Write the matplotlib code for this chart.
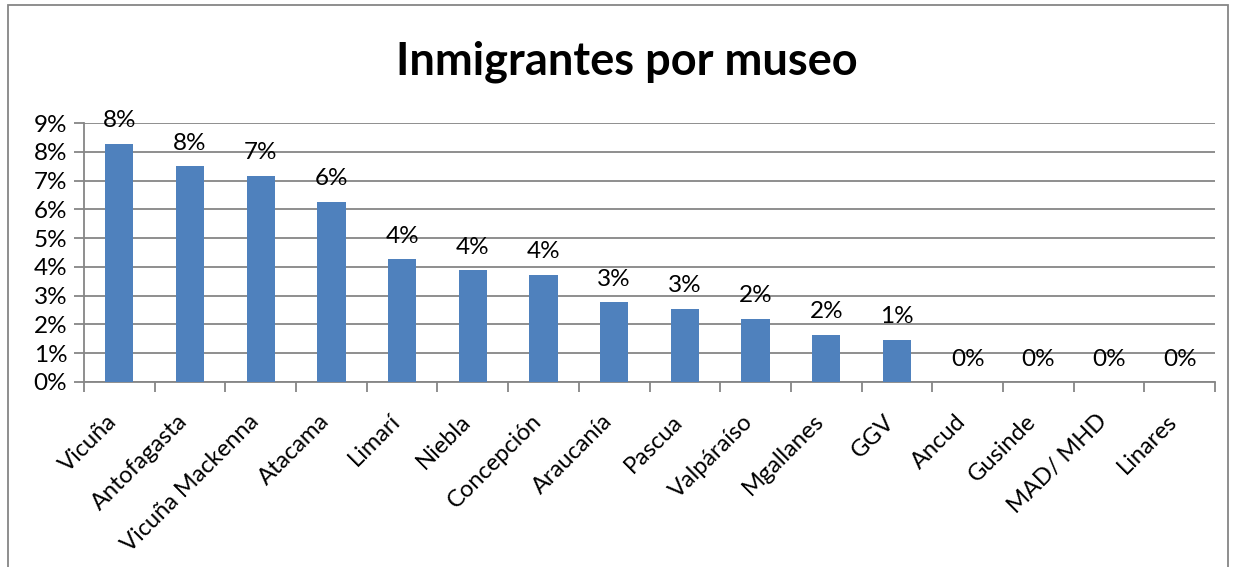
import matplotlib
matplotlib.use("Agg")
import matplotlib.pyplot as plt
from matplotlib.ticker import PercentFormatter
from matplotlib.patches import Rectangle
from matplotlib.transforms import ScaledTranslation

categories = ["Vicuña", "Antofagasta", "Vicuña Mackenna", "Atacama", "Limarí", "Niebla",
              "Concepción", "Araucanía", "Pascua", "Valpáraíso", "Mgallanes", "GGV",
              "Ancud", "Gusinde", "MAD/ MHD", "Linares"]
values = [8.28, 7.50, 7.16, 6.26, 4.26, 3.89, 3.73, 2.77, 2.55, 2.19, 1.64, 1.46,
          0.0, 0.0, 0.0, 0.0]
yticks = [0, 1, 2, 3, 4, 5, 6, 7, 8, 9]

plt.rcParams['font.family'] = ['Lato', 'DejaVu Sans']

fig = plt.figure(figsize=(12.33, 5.67), dpi=100)
ax = fig.add_axes([84/1233, 1-382/567, (1215-84)/1233, (382-123)/567])

fs = 17.5
grid_col = "#868686"
x = list(range(len(categories)))
ax.bar(x, values, width=0.4, color="#4F81BD", zorder=3)
for xi, v in zip(x, values):
    ax.annotate(f"{round(v):.0f}%", (xi, v), xytext=(0, 9), textcoords="offset points",
                ha="center", va="bottom", fontsize=fs, color="black", zorder=4)

ax.set_xlim(-0.5, len(categories) - 0.5)
ax.set_ylim(0, 9)
ax.set_yticks(yticks)
ax.yaxis.set_major_formatter(PercentFormatter(decimals=0))
ax.yaxis.grid(True, color=grid_col, linewidth=1.3, zorder=0)
ax.set_axisbelow(True)

ax.set_xticks(x)
ax.set_xticklabels(categories, rotation=45, ha="right", rotation_mode="anchor", fontsize=17)
ax.set_xticks([i - 0.5 for i in range(len(categories) + 1)], minor=True)
ax.tick_params(axis="x", which="major", length=0, pad=12)
ax.tick_params(axis="x", which="minor", length=7, color=grid_col, width=1.3)
ax.tick_params(axis="y", length=7, color=grid_col, width=1.3, labelsize=fs, pad=5)
shift = ScaledTranslation(-13/100, -12/100, fig.dpi_scale_trans)
for lbl in ax.get_xticklabels():
    lbl.set_transform(lbl.get_transform() + shift)

for s in ["top", "right"]:
    ax.spines[s].set_visible(False)
for s in ["left", "bottom"]:
    ax.spines[s].set_color(grid_col)
    ax.spines[s].set_linewidth(1.3)

fig.text(627/1233, 1-62/567, "Inmigrantes por museo", ha="center", va="center",
         fontsize=32.5, fontweight="bold")

fig.add_artist(Rectangle((8/1233, -0.05), (1228-8)/1233, 1.05 - 5/567, transform=fig.transFigure,
                         fill=False, edgecolor="#868686", linewidth=1.3))

fig.savefig("out.png", dpi=100)
